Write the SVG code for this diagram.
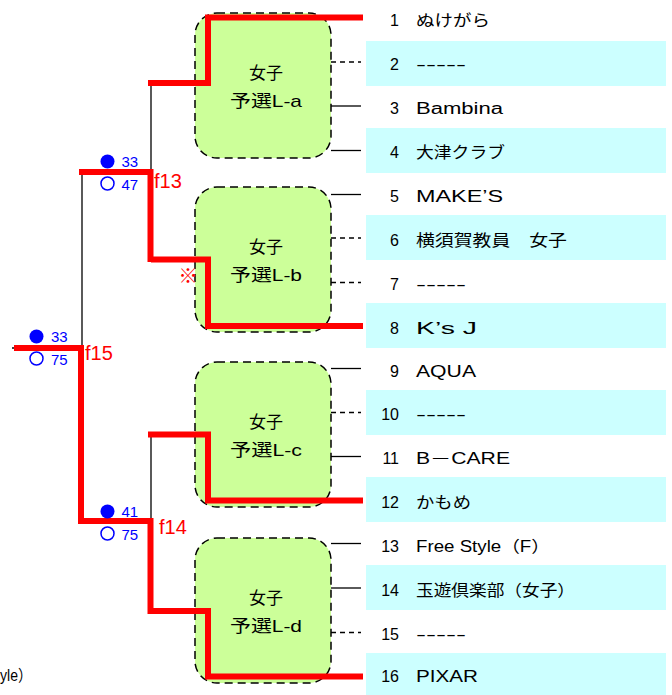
<svg xmlns="http://www.w3.org/2000/svg" width="672" height="695" viewBox="0 0 672 695">
<style>
.band{fill:#ccffff}
.box{fill:#ccff99;stroke:#000;stroke-width:1.5;stroke-dasharray:8,5}
.bt{font-family:"Liberation Sans","Noto Sans CJK JP",sans-serif;font-size:17px;fill:#000;text-anchor:middle}
.num{font-family:"Liberation Sans","Noto Sans CJK JP",sans-serif;font-size:16px;fill:#000;text-anchor:end}
.nm{font-family:"Liberation Sans","Noto Sans CJK JP",sans-serif;font-size:16px;fill:#000}
.thin{stroke:#000;stroke-width:1.3;fill:none}
.dash{stroke:#000;stroke-width:1.3;fill:none;stroke-dasharray:5,4}
.red{stroke:#ff0000;stroke-width:6;fill:none;stroke-linejoin:miter;stroke-linecap:butt}
.fl{font-family:"Liberation Sans",sans-serif;font-size:20px;fill:#ff0000}
.sc{font-family:"Liberation Sans",sans-serif;font-size:15px;fill:#0000ff}
.dot{fill:#0000ff}
.ring{fill:none;stroke:#0000ff;stroke-width:1.5}
</style>
<g id="bands">
<rect class="band" x="366" y="41" width="300" height="45"/>
<rect class="band" x="366" y="128" width="300" height="45"/>
<rect class="band" x="366" y="215" width="300" height="45"/>
<rect class="band" x="366" y="303" width="300" height="45"/>
<rect class="band" x="366" y="390" width="300" height="45"/>
<rect class="band" x="366" y="477" width="300" height="45"/>
<rect class="band" x="366" y="565" width="300" height="45"/>
<rect class="band" x="366" y="653" width="300" height="42"/>
</g>
<g id="block-a"><rect class="box" x="195" y="13" width="136" height="145" rx="22"/><text class="bt" x="266" y="79">女子</text><text class="bt" x="266" y="107" textLength="72" lengthAdjust="spacingAndGlyphs">予選L-a</text></g>
<g id="block-b"><rect class="box" x="195" y="187" width="136" height="145" rx="22"/><text class="bt" x="266" y="253">女子</text><text class="bt" x="266" y="281" textLength="72" lengthAdjust="spacingAndGlyphs">予選L-b</text></g>
<g id="block-c"><rect class="box" x="195" y="362" width="136" height="145" rx="22"/><text class="bt" x="266" y="428">女子</text><text class="bt" x="266" y="456" textLength="72" lengthAdjust="spacingAndGlyphs">予選L-c</text></g>
<g id="block-d"><rect class="box" x="195" y="538" width="136" height="145" rx="22"/><text class="bt" x="266" y="604">女子</text><text class="bt" x="266" y="632" textLength="72" lengthAdjust="spacingAndGlyphs">予選L-d</text></g>
<g id="connectors">
<line class="dash" x1="331" y1="62" x2="361" y2="62"/>
<line class="thin" x1="331" y1="106" x2="361" y2="106"/>
<line class="thin" x1="331" y1="150.5" x2="361" y2="150.5"/>
<line class="thin" x1="331" y1="194.5" x2="361" y2="194.5"/>
<line class="dash" x1="331" y1="238" x2="361" y2="238"/>
<line class="dash" x1="331" y1="282.5" x2="361" y2="282.5"/>
<line class="thin" x1="331" y1="368.5" x2="361" y2="368.5"/>
<line class="dash" x1="331" y1="412.5" x2="361" y2="412.5"/>
<line class="thin" x1="331" y1="456.5" x2="361" y2="456.5"/>
<line class="thin" x1="331" y1="543.5" x2="361" y2="543.5"/>
<line class="thin" x1="331" y1="588" x2="361" y2="588"/>
<line class="dash" x1="331" y1="632.5" x2="361" y2="632.5"/>
<line class="thin" x1="151" y1="83" x2="151" y2="172"/>
<line class="thin" x1="82" y1="172" x2="82" y2="348"/>
<line class="thin" x1="151" y1="434.5" x2="151" y2="521"/>
<line class="thin" x1="12" y1="348" x2="82" y2="348"/>
<path class="red" d="M363,17.5 H208 V83 H148"/>
<path class="red" d="M151,259.5 H208 V326 H363"/>
<path class="red" d="M150.5,262 V172 H79"/>
<path class="red" d="M14,348 H81 V521 H150.5 V611 H208 V676.5 H363"/>
<path class="red" d="M148,434.5 H208 V500.5 H363"/>
</g>
<g id="labels">
<text class="fl" x="154" y="188">f13</text>
<text class="fl" x="85" y="360">f15</text>
<text class="fl" x="159" y="534">f14</text>
<text x="188" y="283" font-family="'Noto Sans CJK JP',sans-serif" font-size="19" fill="#ff0000" text-anchor="middle">※</text>
</g>
<g id="scores">
<circle class="dot" cx="107.5" cy="161.5" r="7"/><text class="sc" x="121.5" y="167">33</text>
<circle class="ring" cx="107.5" cy="183.5" r="6.5"/><text class="sc" x="121.5" y="190">47</text>
<circle class="dot" cx="36.5" cy="336.5" r="7"/><text class="sc" x="51" y="342">33</text>
<circle class="ring" cx="36.5" cy="358.5" r="6.5"/><text class="sc" x="51" y="364.5">75</text>
<circle class="dot" cx="107.5" cy="511.5" r="7"/><text class="sc" x="121.5" y="517">41</text>
<circle class="ring" cx="107.5" cy="533.5" r="6.5"/><text class="sc" x="121.5" y="540">75</text>
</g>
<g id="teams">
<text class="num" x="399" y="25.5">1</text><text class="nm" x="416" y="25.5" textLength="74" lengthAdjust="spacingAndGlyphs">ぬけがら</text>
<text class="num" x="399" y="70">2</text><text class="nm" x="416" y="70" textLength="50" lengthAdjust="spacingAndGlyphs">-----</text>
<text class="num" x="399" y="113.5">3</text><text class="nm" x="416" y="113.5" textLength="87" lengthAdjust="spacingAndGlyphs">Bambina</text>
<text class="num" x="399" y="158">4</text><text class="nm" x="416" y="158" textLength="89" lengthAdjust="spacingAndGlyphs">大津クラブ</text>
<text class="num" x="399" y="202">5</text><text class="nm" x="416" y="202" textLength="87" lengthAdjust="spacingAndGlyphs">MAKE’S</text>
<text class="num" x="399" y="245.5">6</text><text class="nm" x="416" y="245.5" textLength="151" lengthAdjust="spacingAndGlyphs">横須賀教員　女子</text>
<text class="num" x="399" y="290">7</text><text class="nm" x="416" y="290" textLength="50" lengthAdjust="spacingAndGlyphs">-----</text>
<text class="num" x="399" y="333.5">8</text><text class="nm" x="416" y="333.5" textLength="61" lengthAdjust="spacingAndGlyphs">K’s J</text>
<text class="num" x="399" y="376.5">9</text><text class="nm" x="416" y="376.5" textLength="60" lengthAdjust="spacingAndGlyphs">AQUA</text>
<text class="num" x="399" y="420">10</text><text class="nm" x="416" y="420" textLength="50" lengthAdjust="spacingAndGlyphs">-----</text>
<text class="num" x="399" y="464">11</text><text class="nm" x="416" y="464" textLength="94" lengthAdjust="spacingAndGlyphs">B－CARE</text>
<text class="num" x="399" y="508">12</text><text class="nm" x="416" y="508" textLength="55" lengthAdjust="spacingAndGlyphs">かもめ</text>
<text class="num" x="399" y="551.5">13</text><text class="nm" x="416" y="551.5" textLength="134" lengthAdjust="spacingAndGlyphs">Free Style（F）</text>
<text class="num" x="399" y="595.5">14</text><text class="nm" x="416" y="595.5" textLength="159" lengthAdjust="spacingAndGlyphs">玉遊倶楽部（女子）</text>
<text class="num" x="399" y="639.5">15</text><text class="nm" x="416" y="639.5" textLength="50" lengthAdjust="spacingAndGlyphs">-----</text>
<text class="num" x="399" y="682">16</text><text class="nm" x="416" y="682" textLength="62" lengthAdjust="spacingAndGlyphs">PIXAR</text>
</g>
<text class="nm" x="0" y="681" textLength="32" lengthAdjust="spacingAndGlyphs">yle）</text>
</svg>
